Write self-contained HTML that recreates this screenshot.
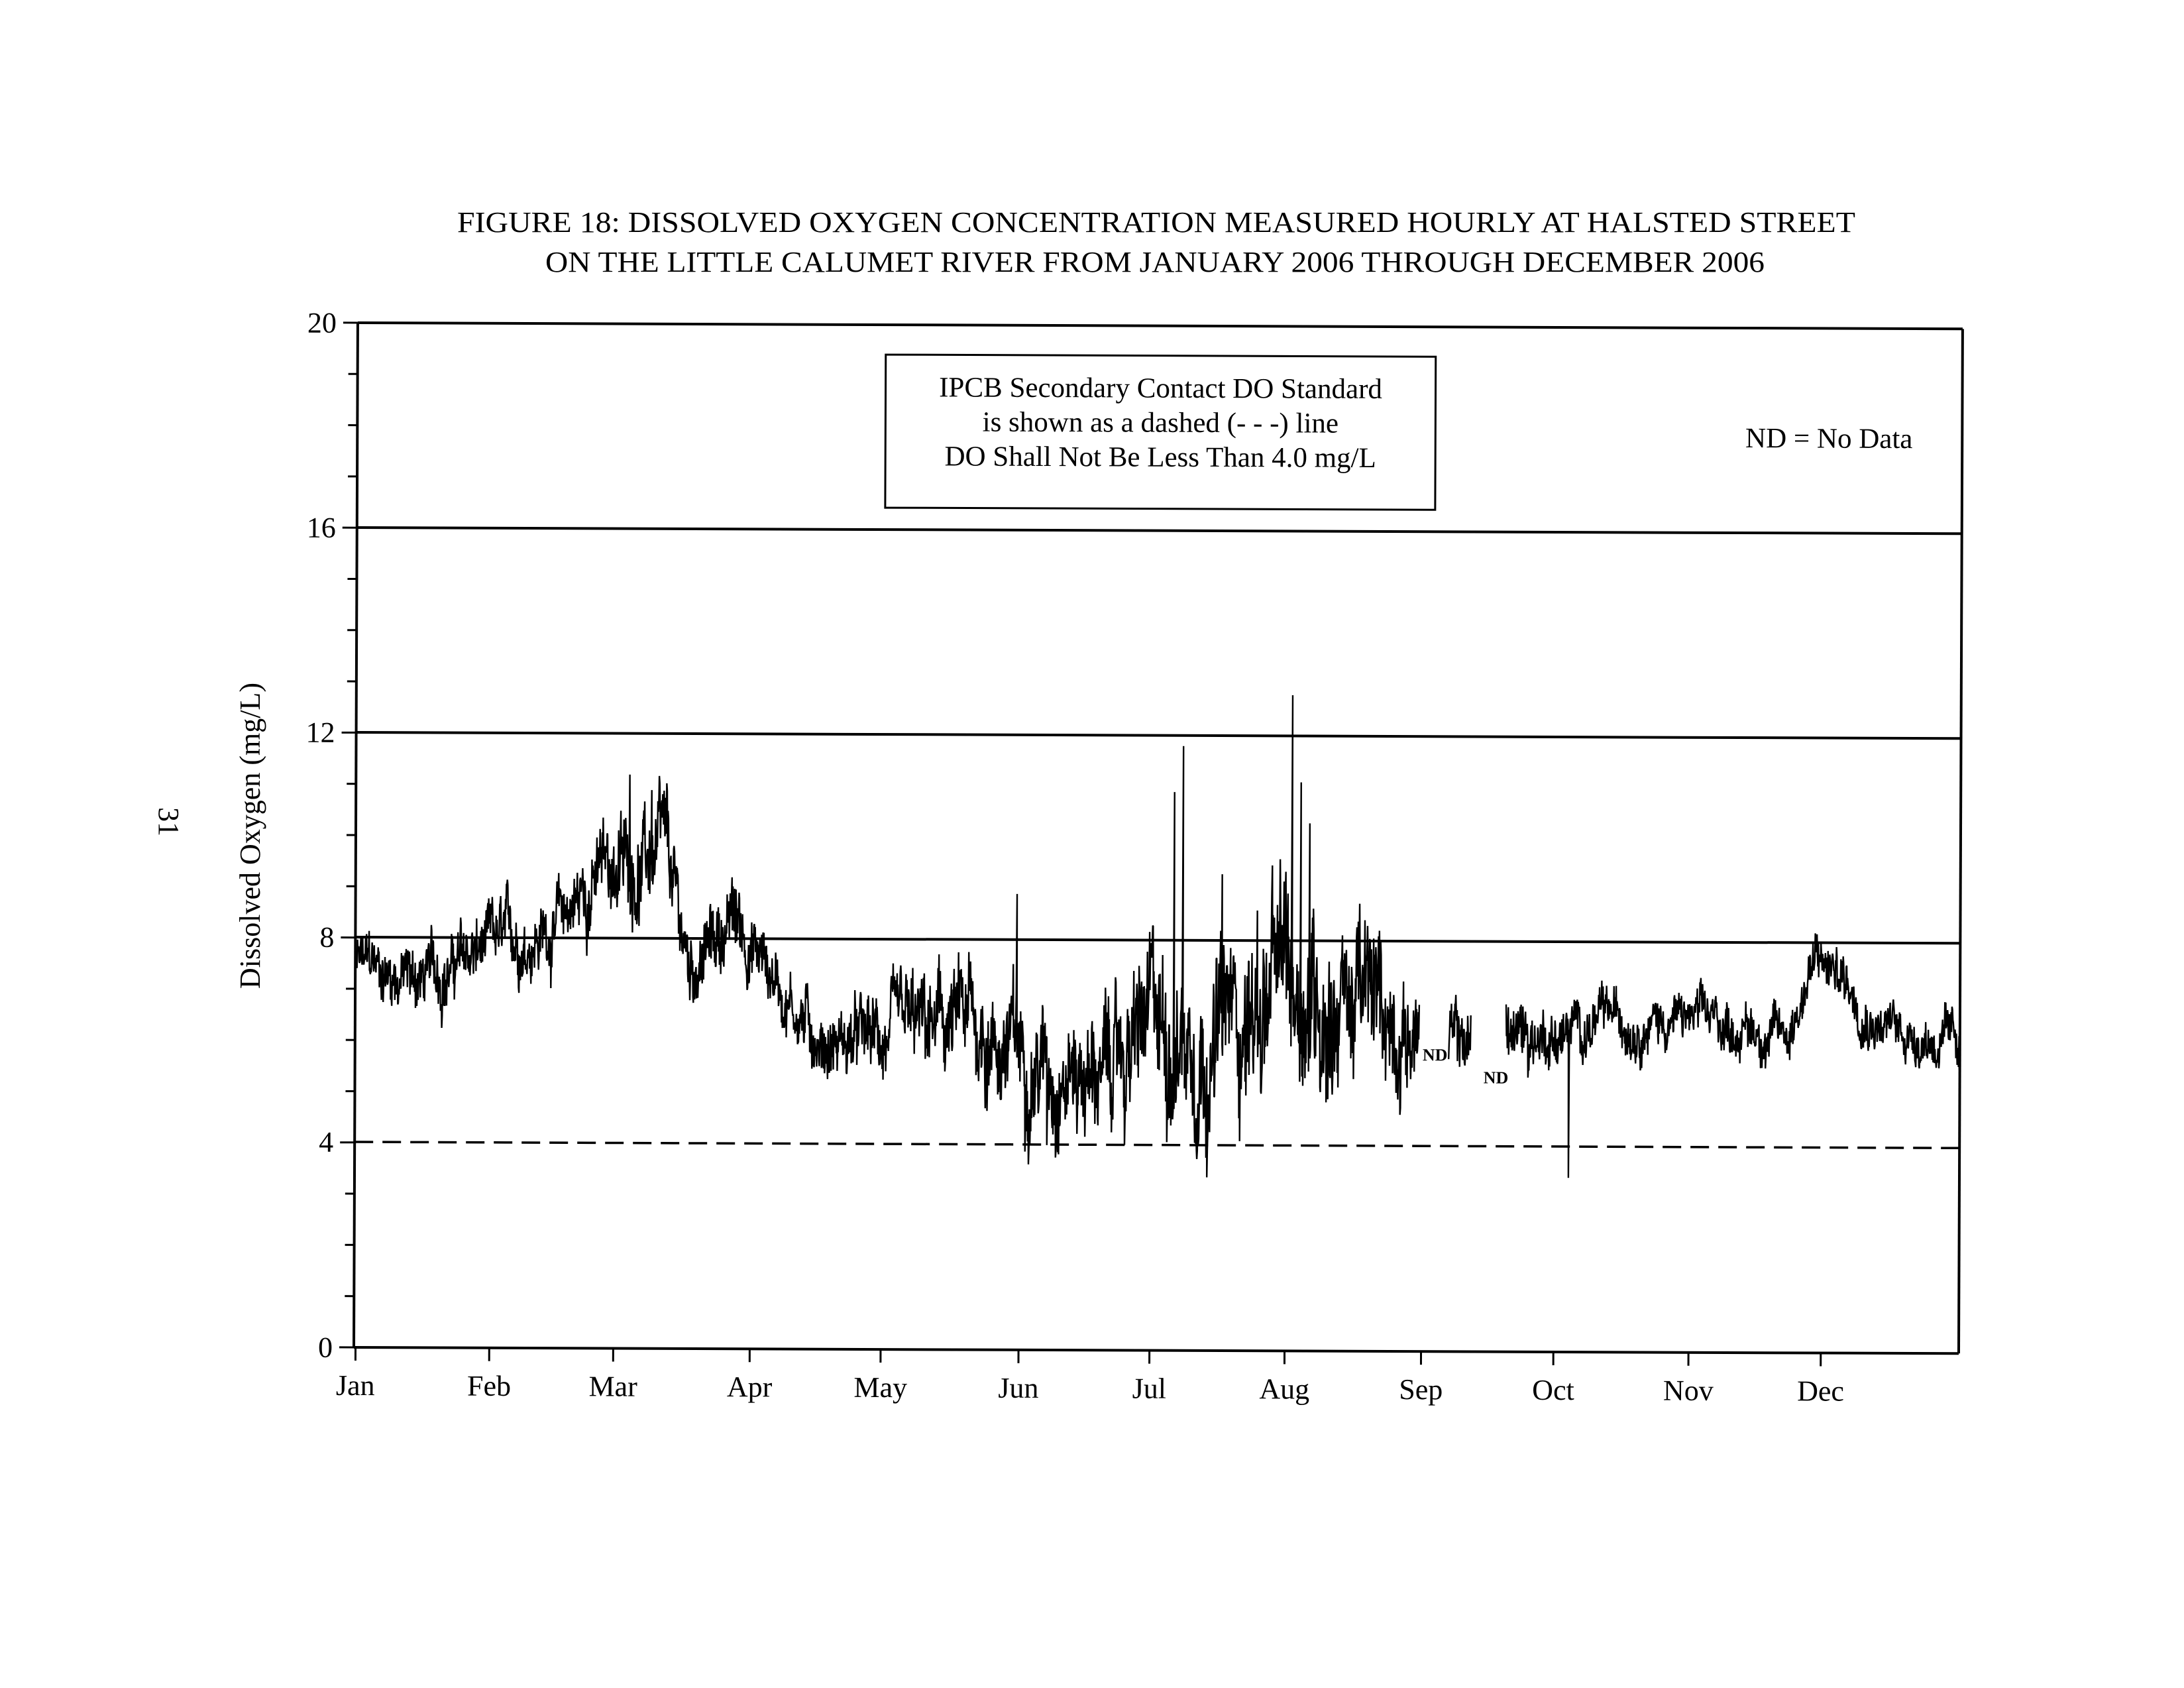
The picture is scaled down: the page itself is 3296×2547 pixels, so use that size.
<!DOCTYPE html>
<html><head><meta charset="utf-8"><style>
html,body{margin:0;padding:0;background:#fff;}
svg{display:block;}
text{font-family:"Liberation Serif",serif;fill:#000;}
</style></head><body>
<svg id="s" width="3296" height="2547" viewBox="0 0 3296 2547" xmlns="http://www.w3.org/2000/svg">
<text x="1745" y="350" font-size="44" text-anchor="middle" textLength="2110" lengthAdjust="spacingAndGlyphs">FIGURE 18: DISSOLVED OXYGEN CONCENTRATION MEASURED HOURLY AT HALSTED STREET</text>
<text x="1743" y="410" font-size="44" text-anchor="middle" textLength="1840" lengthAdjust="spacingAndGlyphs">ON THE LITTLE CALUMET RIVER FROM JANUARY 2006 THROUGH DECEMBER 2006</text>
<text transform="translate(392,1261) rotate(-90)" font-size="44" text-anchor="middle">Dissolved Oxygen (mg/L)</text>
<text transform="translate(240,1240) rotate(90)" font-size="44" text-anchor="middle">31</text>
<g id="plot" transform="rotate(0.22 534 2033)">
<g stroke="#000" stroke-width="4" fill="none">
<line x1="534" y1="487" x2="2956" y2="487"/>
<line x1="534" y1="796" x2="2956" y2="796"/>
<line x1="534" y1="1105" x2="2956" y2="1105"/>
<line x1="534" y1="1414" x2="2956" y2="1414"/>
<line x1="534" y1="2033" x2="2956" y2="2033"/>
<line x1="534" y1="487" x2="534" y2="2033"/>
<line x1="2956" y1="487" x2="2956" y2="2033"/>
<line x1="534" y1="1723" x2="2956" y2="1723" stroke-dasharray="28,14" stroke-width="3.5"/>
</g>
<g id="ticks" stroke="#000" stroke-width="3"></g>
<g font-size="44" text-anchor="end">
<text x="502" y="502">20</text><text x="502" y="811">16</text><text x="502" y="1120">12</text>
<text x="502" y="1429">8</text><text x="502" y="1738">4</text><text x="502" y="2048">0</text>
</g>
<g id="months" font-size="44" text-anchor="middle"></g>
<path id="data" fill="none" stroke="#000" stroke-width="2.4" stroke-linejoin="bevel"/>
<rect x="1331" y="532" width="830" height="231" fill="none" stroke="#000" stroke-width="3"/>
<g font-size="43" text-anchor="middle">
<text x="1746" y="595">IPCB Secondary Contact DO Standard</text>
<text x="1746" y="647">is shown as a dashed (- - -) line</text>
<text x="1746" y="699">DO Shall Not Be Less Than 4.0 mg/L</text>
</g>
<text x="2755" y="667" font-size="43" text-anchor="middle">ND = No Data</text>
<text x="2164" y="1594" font-size="26" font-weight="bold" text-anchor="middle">ND</text>
<text x="2256" y="1628" font-size="26" font-weight="bold" text-anchor="middle">ND</text>
</g>
</svg>
<script>
(function(){
var X0=534,X1=2956,Y0=2033,S=77.3;
var mpos=[255,351,440,538,632,731,825,922,1020,1115,1212,1307];
var names=["Jan","Feb","Mar","Apr","May","Jun","Jul","Aug","Sep","Oct","Nov","Dec"];
var mdays=[0,31,59,90,120,151,181,212,243,273,304,334,365];
var mx=mpos.map(function(p){return p*2.102+0.5;});mx.push(X1);
function dx(d){for(var i=0;i<12;i++){if(d<=mdays[i+1]){var t=(d-mdays[i])/(mdays[i+1]-mdays[i]);return mx[i]+t*(mx[i+1]-mx[i]);}}return X1;}
var ns="http://www.w3.org/2000/svg";
var tk=document.getElementById("ticks"),mg=document.getElementById("months");
for(var i=0;i<12;i++){var l=document.createElementNS(ns,"line");l.setAttribute("x1",mx[i]);l.setAttribute("x2",mx[i]);l.setAttribute("y1",Y0);l.setAttribute("y2",Y0+20);tk.appendChild(l);
var t=document.createElementNS(ns,"text");t.setAttribute("x",mx[i]);t.setAttribute("y",2105);t.textContent=names[i];mg.appendChild(t);}
for(var v=0;v<=20;v++){var l=document.createElementNS(ns,"line");l.setAttribute("x1",v%4==0?512:520);l.setAttribute("x2",534);var y=Y0-v*S;l.setAttribute("y1",y);l.setAttribute("y2",y);tk.appendChild(l);}
var K=[[0,7.5,.5],[15,7.2,.6],[31,7.8,.6],[45,8.2,.6],[57,9.4,.8],[70,9.6,.9],[76,7.4,.6],[86,8.4,.7],[96,7.2,.6],[106,6.0,.6],[120,6.0,.7],[140,6.3,1.0],[152,5.8,1.0],[170,5.4,1.0],[182,6.3,1.4],[196,6.2,1.4],[213,7.2,1.7],[228,6.9,1.4],[240,6.3,.9],[250,6.0,.6],[260,6.2,.7],[275,6.2,.5],[285,6.5,.45],[305,6.5,.45],[326,6.2,.45],[332,7.6,.5],[338,7.4,.5],[348,6.4,.45],[365,6.0,.45]];
function env(d){for(var i=0;i<K.length-1;i++){if(d<=K[i+1][0]){var t=(d-K[i][0])/(K[i+1][0]-K[i][0]);return [K[i][1]+t*(K[i+1][1]-K[i][1]),K[i][2]+t*(K[i+1][2]-K[i][2])];}}return [6,.4];}
var seed=12345;function r(){seed=(seed*1103515245+12345)%2147483648;return seed/2147483648;}
var spikes={62:11.2,67:10.9,188:11.8,186:10.9,213:12.8,215:11.1,217:10.3,276:3.4,157:4.0,243:4.2,150:8.9,197:9.3};
var d="",ar=0,pen=false,N=10;
for(var h=0;h<365*N;h++){var day=h/N;
if((day>242.3&&day<249)||(day>254&&day<262)){pen=false;continue;}
var e=env(day);ar=ar*0.93+(r()-0.5)*0.5;var val=e[0]+ar*e[1]*1.3+(r()-0.5)*e[1]*1.5;
var dd=Math.floor(day);if(spikes[dd]!==undefined&&h%N==3){val=spikes[dd];}
var x=dx(day),y=Y0-val*S;
d+=(pen?"L":"M")+x.toFixed(1)+" "+y.toFixed(1);pen=true;}
document.getElementById("data").setAttribute("d",d);
})();
</script>
</body></html>
